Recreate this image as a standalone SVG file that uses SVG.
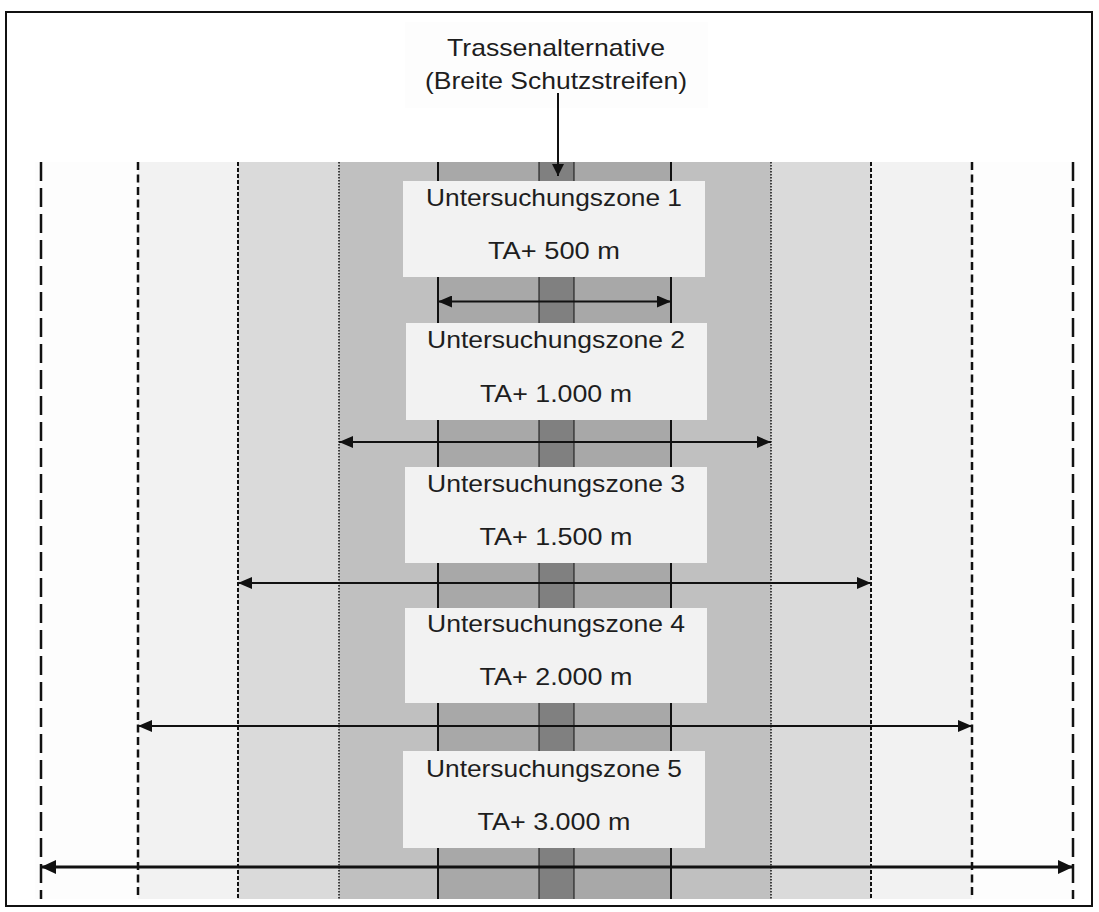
<svg xmlns="http://www.w3.org/2000/svg" width="1099" height="912" viewBox="0 0 1099 912">
  <style>
    .lbl { font-family: "Liberation Sans", Arial, sans-serif; font-size: 24px; fill: #1e1e1e; text-anchor: middle; }
    .box { fill: #f2f2f2; }
    .edge { stroke: #111; fill: none; }
    .arrow { stroke: #111; stroke-width: 2; fill: none; marker-start: url(#head); marker-end: url(#head); }
  </style>
  <defs>
    <marker id="head" markerUnits="userSpaceOnUse" markerWidth="14" markerHeight="12" refX="14" refY="6" orient="auto-start-reverse">
      <path d="M0,0 L14,6 L0,12 z" fill="#111"/>
    </marker>
    <marker id="headBig" markerUnits="userSpaceOnUse" markerWidth="15" markerHeight="14" refX="15" refY="7" orient="auto-start-reverse">
      <path d="M0,0 L15,7 L0,14 z" fill="#111"/>
    </marker>
    <marker id="down" markerUnits="userSpaceOnUse" markerWidth="12" markerHeight="12" refX="12" refY="6" orient="auto">
      <path d="M0,0 L12,6 L0,12 z" fill="#111"/>
    </marker>
  </defs>

  <!-- page background and frame -->
  <rect x="0" y="0" width="1099" height="912" fill="#ffffff"/>
  <rect x="6" y="12" width="1086" height="894" fill="none" stroke="#111" stroke-width="2"/>

  <!-- nested corridor bands, widest (lightest) to narrowest (darkest) -->
  <g id="bands">
    <rect x="35" y="162" width="1045" height="737" fill="#fdfdfd"/>
    <rect x="138" y="162" width="834" height="737" fill="#f2f2f2"/>
    <rect x="238" y="162" width="633" height="737" fill="#dadada"/>
    <rect x="339" y="162" width="432" height="737" fill="#c0c0c0"/>
    <rect x="438" y="162" width="233" height="737" fill="#a8a8a8"/>
    <rect x="539" y="162" width="35" height="737" fill="#808080"/>
  </g>

  <!-- zone boundary lines -->
  <g id="boundaries">
    <line class="edge" x1="41" y1="162" x2="41" y2="899" stroke-width="2.5" stroke-dasharray="19 7"/>
    <line class="edge" x1="1073" y1="162" x2="1073" y2="899" stroke-width="2.5" stroke-dasharray="19 7"/>
    <line class="edge" x1="138" y1="162" x2="138" y2="899" stroke-width="2.5" stroke-dasharray="8 4.5"/>
    <line class="edge" x1="972" y1="162" x2="972" y2="899" stroke-width="2.5" stroke-dasharray="8 4.5"/>
    <line class="edge" x1="238" y1="162" x2="238" y2="899" stroke-width="2" stroke-dasharray="4 2"/>
    <line class="edge" x1="871" y1="162" x2="871" y2="899" stroke-width="2" stroke-dasharray="4 2"/>
    <line class="edge" x1="339" y1="162" x2="339" y2="899" stroke-width="1.5" stroke-dasharray="1.5 1.5"/>
    <line class="edge" x1="771" y1="162" x2="771" y2="899" stroke-width="1.5" stroke-dasharray="1.5 1.5"/>
    <line class="edge" x1="438" y1="162" x2="438" y2="899" stroke-width="2"/>
    <line class="edge" x1="671" y1="162" x2="671" y2="899" stroke-width="2"/>
    <line class="edge" x1="539" y1="162" x2="539" y2="899" stroke-width="1" stroke="#333"/>
    <line class="edge" x1="574" y1="162" x2="574" y2="899" stroke-width="1" stroke="#333"/>
  </g>

  <!-- route alternative label -->
  <g id="title">
    <rect x="405" y="22" width="303" height="86" fill="#fdfdfd"/>
    <text class="lbl" x="556" y="56" textLength="218" lengthAdjust="spacingAndGlyphs">Trassenalternative</text>
    <text class="lbl" x="556" y="89" textLength="262" lengthAdjust="spacingAndGlyphs">(Breite Schutzstreifen)</text>
  </g>

  <!-- width arrows -->
  <g id="connectors">
    <line x1="558" y1="93" x2="558" y2="176" stroke="#111" stroke-width="2" marker-end="url(#down)"/>
    <line class="arrow" x1="438" y1="301.5" x2="671" y2="301.5"/>
    <line class="arrow" x1="339" y1="442" x2="771" y2="442"/>
    <line class="arrow" x1="238" y1="583" x2="871" y2="583"/>
    <line class="arrow" x1="138" y1="726" x2="972" y2="726"/>
    <line x1="41" y1="867" x2="1073" y2="867" stroke="#111" stroke-width="3" marker-start="url(#headBig)" marker-end="url(#headBig)"/>
  </g>

  <!-- zone labels -->
  <g id="zone1">
    <rect class="box" x="403" y="181" width="302" height="96"/>
    <text class="lbl" x="554" y="206" textLength="256" lengthAdjust="spacingAndGlyphs">Untersuchungszone 1</text>
    <text class="lbl" x="554" y="259" textLength="132" lengthAdjust="spacingAndGlyphs">TA+ 500 m</text>
  </g>
  <g id="zone2">
    <rect class="box" x="406" y="323" width="301" height="97"/>
    <text class="lbl" x="556" y="348" textLength="258" lengthAdjust="spacingAndGlyphs">Untersuchungszone 2</text>
    <text class="lbl" x="556" y="402" textLength="152" lengthAdjust="spacingAndGlyphs">TA+ 1.000 m</text>
  </g>
  <g id="zone3">
    <rect class="box" x="405" y="467" width="302" height="96"/>
    <text class="lbl" x="556" y="492" textLength="258" lengthAdjust="spacingAndGlyphs">Untersuchungszone 3</text>
    <text class="lbl" x="556" y="545" textLength="153" lengthAdjust="spacingAndGlyphs">TA+ 1.500 m</text>
  </g>
  <g id="zone4">
    <rect class="box" x="405" y="608" width="302" height="95"/>
    <text class="lbl" x="556" y="632" textLength="258" lengthAdjust="spacingAndGlyphs">Untersuchungszone 4</text>
    <text class="lbl" x="556" y="685" textLength="153" lengthAdjust="spacingAndGlyphs">TA+ 2.000 m</text>
  </g>
  <g id="zone5">
    <rect class="box" x="403" y="751" width="302" height="97"/>
    <text class="lbl" x="554" y="777" textLength="256" lengthAdjust="spacingAndGlyphs">Untersuchungszone 5</text>
    <text class="lbl" x="554" y="830" textLength="153" lengthAdjust="spacingAndGlyphs">TA+ 3.000 m</text>
  </g>
</svg>
